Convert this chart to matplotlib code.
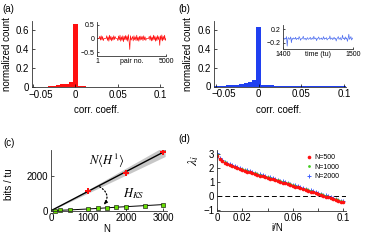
import matplotlib
matplotlib.use("Agg")
import matplotlib.pyplot as plt
import matplotlib.transforms as mtransforms
import numpy as np

plt.rcParams['font.family'] = ['Liberation Sans', 'DejaVu Sans']
plt.rcParams['mathtext.fontset'] = 'stix'
plt.rcParams['axes.linewidth'] = 0.6
plt.rcParams['axes.edgecolor'] = '0.2'

# (a) / (b) histograms of correlation coefficients, bins centred on multiples of 0.005
bin_centers = np.round(np.arange(-0.05, 0.1001, 0.005), 4)
hist_a = [0.002, 0.004, 0.007, 0.010, 0.014, 0.018, 0.024, 0.032, 0.038, 0.057,
          0.670,
          0.012, 0.011, 0.010, 0.009, 0.008, 0.007, 0.006, 0.006, 0.005, 0.004,
          0.004, 0.003, 0.003, 0.002, 0.002, 0.002, 0.001, 0.001, 0.001, 0.001]
hist_b = [0.003, 0.005, 0.008, 0.011, 0.015, 0.020, 0.025, 0.035, 0.045, 0.070,
          0.640,
          0.013, 0.012, 0.011, 0.010, 0.009, 0.008, 0.007, 0.006, 0.005, 0.005,
          0.004, 0.004, 0.003, 0.003, 0.002, 0.002, 0.002, 0.001, 0.001, 0.001]

# inset (a): correlation per pair
pair_vals = [0, 0, 0, 0,
             0.08, -0.06, 0.1, -0.05, 0.07, -0.08,
             0, 0, 0, 0,
             0.1, -0.07, 0.06, -0.1, 0.12, -0.05, 0.08, -0.09, 0.05, -0.06, 0.1, -0.04, 0.07,
             0, 0, 0,
             -0.08, 0.09, -0.05, 0.12, -0.1, 0.06, -0.07, 0.1, -0.12, 0.08,
             -0.05, 0.11, -0.06, 0.09, -0.1, 0.14, -0.08, -0.4, 0.1, -0.06,
             0,
             0.07, -0.09, 0.1, -0.05, 0.06, -0.08, 0.12, -0.07, 0.05, -0.1,
             0.08, -0.06, 0.09, -0.04, 0.07, -0.08, 0.1, -0.05, 0.06, -0.07,
             0, 0, 0, 0,
             0.08, -0.06, 0.1, -0.09, 0.05, -0.07, 0.12, -0.05, 0.09, -0.1, 0.06, -0.08,
             0.11, -0.04, 0.07, -0.25, 0.1, -0.06, 0.13, -0.09, 0.08, -0.05, 0.12, -0.07,
             0]

# inset (b): correlation vs time
time_vals = [-0.08, -0.06, -0.10, -0.07, -0.09, -0.02, -0.30, -0.08, -0.05, -0.10,
             -0.08, -0.03, -0.20, -0.07, -0.10, -0.06, -0.08, -0.09, -0.04, -0.11,
             -0.08, -0.07, -0.10, -0.02, -0.06, -0.13, -0.08, -0.09, -0.06, -0.01,
             -0.10, -0.08, -0.07, -0.12, -0.08, -0.05, -0.10, -0.09, -0.07, -0.04,
             -0.11, -0.08, -0.06, -0.10, -0.01, -0.08, -0.09, -0.06, -0.14, -0.08,
             -0.07, -0.03, -0.10, -0.08, -0.09, -0.06, -0.11, -0.08, -0.02, -0.10,
             -0.07, -0.08, -0.05, -0.12, -0.09, -0.07, -0.08, 0.00, -0.10, -0.08,
             -0.06, -0.11, -0.08, -0.04, -0.09, -0.07, -0.15, -0.08, -0.06, -0.02,
             -0.10, -0.08, -0.05, -0.12, -0.09, 0.02, -0.08, -0.07, -0.11, -0.03,
             -0.09, -0.06, -0.16, -0.08, 0.05, -0.10, -0.07, -0.02, -0.12, -0.08,
             -0.06]

# (c) entropy rates
N_h1 = [1000, 2000, 3000]
H1_vals = [1125, 2135, 3370]
fit_N = [0, 1000, 2000, 3050]
fit_H = [0, 1115, 2230, 3400]
band_half = [0, 100, 200, 300]
N_ks = [100, 250, 500, 1000, 1250, 1500, 1750, 2000, 2500, 3000]
H_ks = [10, 25, 45, 100, 130, 165, 200, 230, 290, 350]

# (d) Lyapunov spectra
iN = np.arange(51) * 0.002
lam_500 = [2.85, 2.62, 2.48, 2.37, 2.28, 2.20, 2.12, 2.05, 1.98, 1.92,
           1.86, 1.80, 1.74, 1.69, 1.63, 1.58, 1.52, 1.47, 1.41, 1.36,
           1.30, 1.25, 1.19, 1.14, 1.08, 1.03, 0.97, 0.91, 0.86, 0.80,
           0.74, 0.68, 0.62, 0.56, 0.50, 0.44, 0.38, 0.32, 0.26, 0.20,
           0.14, 0.08, 0.02, -0.04, -0.10, -0.16, -0.22, -0.28, -0.34, -0.40,
           -0.46]
lam_1000 = [2.95, 2.68, 2.53, 2.42, 2.33, 2.25, 2.17, 2.10, 2.03, 1.97,
            1.91, 1.85, 1.79, 1.73, 1.68, 1.62, 1.57, 1.51, 1.46, 1.40,
            1.35, 1.29, 1.24, 1.18, 1.13, 1.07, 1.01, 0.96, 0.90, 0.84,
            0.78, 0.72, 0.66, 0.60, 0.54, 0.48, 0.42, 0.36, 0.30, 0.24,
            0.18, 0.12, 0.06, 0.00, -0.06, -0.12, -0.18, -0.24, -0.30, -0.36,
            -0.42]
lam_2000 = [3.10, 2.75, 2.59, 2.47, 2.38, 2.30, 2.22, 2.15, 2.08, 2.02,
            1.96, 1.90, 1.84, 1.78, 1.72, 1.67, 1.61, 1.56, 1.50, 1.45,
            1.39, 1.34, 1.28, 1.23, 1.17, 1.11, 1.06, 1.00, 0.94, 0.88,
            0.82, 0.76, 0.70, 0.64, 0.58, 0.52, 0.46, 0.40, 0.34, 0.28,
            0.22, 0.16, 0.10, 0.04, -0.02, -0.08, -0.14, -0.20, -0.26, -0.32,
            -0.38]

RED = '#ff1010'
BLUE = '#2040f0'
W, H = 365.0, 240.0
FS = 7


def px_axes(x0, y_top, x1, y_bot):
    # axes rectangle from pixel coords of the 365x240 picture
    return fig.add_axes([x0 / W, 1 - y_bot / H, (x1 - x0) / W, (y_bot - y_top) / H])


def style(ax, fs=FS, ln=2):
    ax.spines['top'].set_visible(False)
    ax.spines['right'].set_visible(False)
    ax.tick_params(direction='in', length=ln, width=0.5, labelsize=fs, pad=2)


def nudge_first_xlabel(ax, dx_px):
    lab = ax.get_xticklabels()[0]
    lab.set_ha('left')
    lab.set_transform(lab.get_transform() +
                      mtransforms.ScaledTranslation(dx_px / 100, 0, fig.dpi_scale_trans))


fig = plt.figure(figsize=(3.65, 2.4), dpi=100)

# ---- (a)
ax_a = px_axes(32, 21, 163, 87.5)
ax_a.bar(bin_centers, hist_a, width=0.005, color=RED, linewidth=0)
ax_a.set_xlim(-0.051, 0.103)
ax_a.set_ylim(0, 0.7)
ax_a.set_xticks([-0.05, 0, 0.05, 0.1])
ax_a.set_xticklabels(['\u22120.05', '0', '0.05', '0.1'])
ax_a.set_yticks([0, 0.2, 0.4, 0.6])
ax_a.set_yticklabels(['0', '0.2', '0.4', '0.6'])
style(ax_a)
nudge_first_xlabel(ax_a, -4)

ins_a = px_axes(97, 22, 166, 55.5)
ins_a.plot(np.linspace(1, 5000, len(pair_vals)), pair_vals, color=RED, lw=0.5)
ins_a.set_xlim(1, 5000)
ins_a.set_ylim(-0.62, 0.6)
ins_a.set_xticks([1, 5000])
ins_a.set_yticks([-0.5, 0, 0.5])
ins_a.set_yticklabels(['\u22120.5', '0', '0.5'])
style(ins_a, fs=5, ln=1.5)
ins_a.patch.set_alpha(0)
ins_a.set_xlabel('pair no.', fontsize=5, labelpad=-5)

# ---- (b)
ax_b = px_axes(214, 21, 346, 86.5)
ax_b.bar(bin_centers, hist_b, width=0.005, color=BLUE, linewidth=0)
ax_b.set_xlim(-0.052, 0.102)
ax_b.set_ylim(0, 0.7)
ax_b.set_xticks([-0.05, 0, 0.05, 0.1])
ax_b.set_xticklabels(['\u22120.05', '0', '0.05', '0.1'])
ax_b.set_yticks([0, 0.2, 0.4, 0.6])
ax_b.set_yticklabels(['0', '0.2', '0.4', '0.6'])
style(ax_b)
nudge_first_xlabel(ax_b, -4)

ins_b = px_axes(283, 25, 353, 48.5)
ins_b.plot(np.linspace(1400, 1500, len(time_vals)), time_vals, color='#5070f0', lw=0.5)
ins_b.set_xlim(1400, 1500)
ins_b.set_ylim(-0.37, 0.32)
ins_b.set_xticks([1400, 1500])
ins_b.set_yticks([-0.2, 0.2])
ins_b.set_yticklabels(['\u22120.2', '0.2'])
style(ins_b, fs=5, ln=1.5)
ins_b.patch.set_alpha(0)
ins_b.set_xlabel('time (tu)', fontsize=5, labelpad=-5)

for x in (97, 279):
    fig.text(x / W, 1 - 110 / H, 'corr. coeff.', fontsize=FS, ha='center', va='center')
for x in (7, 188):
    fig.text(x / W, 1 - 54 / H, 'normalized count', fontsize=FS, ha='center', va='center',
             rotation=90)

# ---- (c)
ax_c = px_axes(51, 150, 167, 210.7)
ax_c.fill_between(fit_N, np.array(fit_H) - np.array(band_half),
                  np.array(fit_H) + np.array(band_half), color='0.78', linewidth=0)
ax_c.plot(fit_N, fit_H, color='black', lw=1.0)
ax_c.plot(N_h1, H1_vals, linestyle='none', marker='P', ms=4, color=RED, mew=0)
ax_c.plot(N_ks, H_ks, color='black', lw=0.7, marker='s', ms=3.3, mfc='#66dd00', mec='black',
          mew=0.4, clip_on=False)
ax_c.set_xlim(0, 3100)
ax_c.set_ylim(0, 3470)
ax_c.set_xticks([0, 1000, 2000, 3000])
ax_c.set_yticks([0, 2000])
style(ax_c)
ax_c.text(1480, 2870, r'$N\langle H^1\rangle$', fontsize=9, ha='center', va='center')
ax_c.text(2200, 950, r'$H_{KS}$', fontsize=9, ha='center', va='center')
ax_c.annotate('', xy=(1420, 330), xytext=(1300, 1370),
              arrowprops=dict(arrowstyle='-|>', linestyle=':', lw=0.9, color='black',
                              mutation_scale=5, connectionstyle='arc3,rad=-0.5',
                              shrinkA=0, shrinkB=0))
fig.text(9 / W, 1 - 184 / H, 'bits / tu', fontsize=FS, ha='center', va='center', rotation=90)
fig.text(107 / W, 1 - 229 / H, 'N', fontsize=FS, ha='center', va='center')

# ---- (d)
ax_d = px_axes(217, 150, 346, 210.7)
ax_d.axhline(0, color='black', lw=0.7, dashes=(5, 3))
hb, = ax_d.plot(iN, lam_2000, linestyle='none', marker='+', ms=3.2, mew=0.7, color='#4060ff')
hg, = ax_d.plot(iN, lam_1000, linestyle='none', marker='o', ms=2.0, mew=0, color='#44cc22')
hr, = ax_d.plot(iN, lam_500, linestyle='none', marker='o', ms=2.6, mew=0, color=RED)
ax_d.set_xlim(0, 0.102)
ax_d.set_ylim(-1.05, 3.3)
ax_d.set_xticks([0, 0.02, 0.04, 0.06, 0.08, 0.1])
ax_d.set_xticklabels(['0', '0.02', '', '0.06', '', '0.1'])
ax_d.set_yticks([-1, 0, 1, 2, 3])
ax_d.set_yticklabels(['\u22121', '0', '1', '2', '3'])
style(ax_d)
ax_d.legend([hr, hg, hb], ['N=500', 'N=1000', 'N=2000'], loc='upper right',
            bbox_to_anchor=(1.0, 1.03), fontsize=5, frameon=False, handlelength=0.8,
            handletextpad=0.4, labelspacing=0.35, markerscale=1.0)
fig.text(194 / W, 1 - 160 / H, r'$\lambda_i$', fontsize=10, ha='center', va='center', rotation=90)
fig.text(277 / W, 1 - 228 / H, 'i/N', fontsize=FS, ha='center', va='center')

# panel letters
fig.text(2 / W, 1 - 9 / H, '(a)', fontsize=FS, va='center')
fig.text(178 / W, 1 - 9 / H, '(b)', fontsize=FS, va='center')
fig.text(3 / W, 1 - 143 / H, '(c)', fontsize=FS, va='center')
fig.text(178 / W, 1 - 139 / H, '(d)', fontsize=FS, va='center')

fig.savefig('out.png', dpi=100)
